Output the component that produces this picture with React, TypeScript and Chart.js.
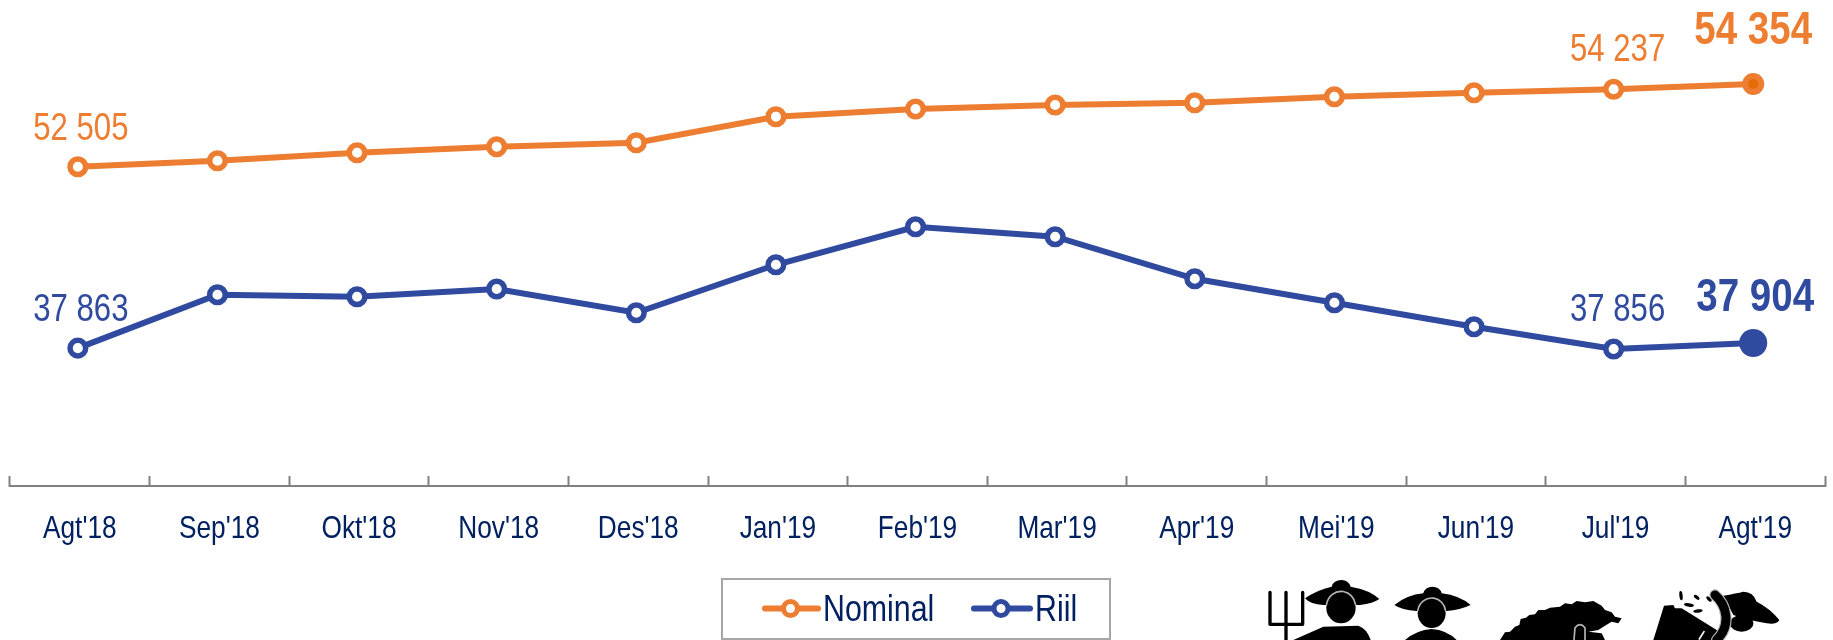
import React, { useEffect, useRef } from "react";
import { Chart, registerables } from "chart.js";

Chart.register(...registerables);

const categories = ["Agt'18", "Sep'18", "Okt'18", "Nov'18", "Des'18", "Jan'19", "Feb'19", "Mar'19", "Apr'19", "Mei'19", "Jun'19", "Jul'19", "Agt'19"];
const nominal = [52505, 52639, 52818, 52952, 53042, 53623, 53795, 53884, 53936, 54070, 54159, 54237, 54354];
const riil = [37863, 38290, 38274, 38336, 38146, 38530, 38834, 38754, 38418, 38226, 38034, 37856, 37904];
const labelledPoints = [0, 11, 12];

const ORANGE = "#ED7D31";
const BLUE = "#2F4A9E";
const NAVY = "#002060";
const SANS = '"Liberation Sans", Arial, sans-serif';
const NARROW_FACTOR = 0.82;
const last = categories.length - 1;

const fmt = (v: number) => String(v).replace(/\B(?=(\d{3})+$)/g, " ");

function narrowText(ctx: any, text: string, x: number, y: number) {
  ctx.save();
  ctx.translate(x, y);
  ctx.scale(NARROW_FACTOR, 1);
  ctx.fillText(text, 0, 0);
  ctx.restore();
}

const tickLabels = {
  id: "tickLabels",
  afterDraw(chart: any) {
    const { ctx } = chart;
    const xs = chart.scales.x;
    ctx.save();
    ctx.fillStyle = NAVY;
    ctx.font = `32px ${SANS}`;
    ctx.textAlign = "center";
    ctx.textBaseline = "alphabetic";
    categories.forEach((c, i) => narrowText(ctx, c, xs.getPixelForTick(i), 538));
    ctx.restore();
  },
};

const valueLabels = {
  id: "valueLabels",
  afterDatasetsDraw(chart: any) {
    const { ctx } = chart;
    ctx.save();
    ctx.textAlign = "center";
    ctx.textBaseline = "alphabetic";
    chart.data.datasets.forEach((ds: any, di: number) => {
      const meta = chart.getDatasetMeta(di);
      labelledPoints.forEach((i) => {
        const pt = meta.data[i];
        const bold = i === last;
        ctx.fillStyle = ds.borderColor;
        ctx.font = `${bold ? "bold " : ""}${bold ? 47 : 38}px ${SANS}`;
        let dx = 3;
        let dy = -27;
        if (i === 11) { dx = 4; dy = -28; }
        if (i === last) { dx = di === 0 ? 0 : 2; dy = di === 0 ? -40 : -32; }
        narrowText(ctx, fmt(ds.data[i].y), pt.x + dx, pt.y + dy);
      });
    });
    ctx.restore();
  },
};

const boxedLegend = {
  id: "boxedLegend",
  afterDraw(chart: any) {
    const { ctx } = chart;
    ctx.save();
    ctx.strokeStyle = "#A6A6A6";
    ctx.lineWidth = 2;
    ctx.strokeRect(722, 579, 388, 60);
    const items = [
      { x0: 765, x1: 818, cx: 790.5, tx: 823 },
      { x0: 974, x1: 1030, cx: 1001, tx: 1035 },
    ];
    chart.data.datasets.forEach((ds: any, i: number) => {
      const it = items[i];
      ctx.strokeStyle = ds.borderColor;
      ctx.lineWidth = 6;
      ctx.lineCap = "round";
      ctx.beginPath();
      ctx.moveTo(it.x0, 608.5);
      ctx.lineTo(it.x1, 608.5);
      ctx.stroke();
      ctx.fillStyle = "#fff";
      ctx.lineWidth = 5;
      ctx.beginPath();
      ctx.arc(it.cx, 608.5, 7, 0, Math.PI * 2);
      ctx.fill();
      ctx.stroke();
      ctx.fillStyle = NAVY;
      ctx.font = `37px ${SANS}`;
      ctx.textAlign = "left";
      ctx.textBaseline = "alphabetic";
      narrowText(ctx, ds.label, it.tx, 621);
    });
    ctx.restore();
  },
};

function poly(ctx: any, pts: number[][]) {
  ctx.beginPath();
  pts.forEach((p, i) => (i ? ctx.lineTo(p[0], p[1]) : ctx.moveTo(p[0], p[1])));
  ctx.closePath();
  ctx.fill();
}

function head(ctx: any, cx: number, cy: number, rx: number, ry: number) {
  ctx.beginPath();
  ctx.ellipse(cx, cy, rx, ry, 0, 0, Math.PI * 2);
  ctx.fill();
  ctx.strokeStyle = "#B5B5B5";
  ctx.lineWidth = 5;
  ctx.beginPath();
  ctx.ellipse(cx, cy - 2, rx, ry, 0, Math.PI * 1.05, Math.PI * 1.95);
  ctx.stroke();
}

const workerIcons = {
  id: "workerIcons",
  afterDraw(chart: any) {
    const { ctx } = chart;
    ctx.save();
    ctx.fillStyle = "#000";
    ctx.strokeStyle = "#000";
    ctx.lineJoin = "round";
    ctx.lineCap = "round";

    ctx.save();
    ctx.translate(1260, 575);
    ctx.scale(1 / 3, 1 / 3);
    ctx.lineWidth = 10;
    ctx.beginPath();
    ctx.moveTo(30, 52); ctx.lineTo(30, 148); ctx.lineTo(128, 148); ctx.lineTo(128, 52);
    ctx.moveTo(78, 52); ctx.lineTo(78, 195);
    ctx.stroke();
    ctx.beginPath();
    ctx.moveTo(135, 70);
    ctx.quadraticCurveTo(170, 45, 215, 35);
    ctx.quadraticCurveTo(220, 15, 245, 15);
    ctx.quadraticCurveTo(265, 15, 272, 35);
    ctx.quadraticCurveTo(330, 45, 358, 72);
    ctx.quadraticCurveTo(340, 85, 300, 90);
    ctx.lineTo(190, 90);
    ctx.quadraticCurveTo(150, 88, 135, 70);
    ctx.fill();
    head(ctx, 243, 98, 44, 47);
    ctx.beginPath();
    ctx.moveTo(100, 195);
    ctx.lineTo(190, 155);
    ctx.lineTo(295, 152);
    ctx.quadraticCurveTo(320, 160, 332, 195);
    ctx.closePath();
    ctx.fill();
    ctx.beginPath();
    ctx.moveTo(403, 90);
    ctx.quadraticCurveTo(440, 60, 490, 55);
    ctx.quadraticCurveTo(495, 35, 517, 35);
    ctx.quadraticCurveTo(540, 35, 545, 55);
    ctx.quadraticCurveTo(600, 62, 632, 90);
    ctx.quadraticCurveTo(600, 105, 560, 108);
    ctx.lineTo(470, 108);
    ctx.quadraticCurveTo(425, 105, 403, 90);
    ctx.fill();
    head(ctx, 515, 115, 42, 44);
    ctx.beginPath();
    ctx.moveTo(435, 195);
    ctx.quadraticCurveTo(470, 165, 515, 162);
    ctx.quadraticCurveTo(560, 165, 590, 195);
    ctx.closePath();
    ctx.fill();
    ctx.restore();

    ctx.save();
    ctx.translate(1490, 575);
    ctx.scale(1 / 3, 1 / 3);
    poly(ctx, [[30, 195], [45, 172], [60, 170], [75, 155], [88, 150], [92, 132], [108, 128], [118, 120], [135, 118], [145, 105], [165, 105], [180, 98], [210, 95], [225, 85], [245, 88], [260, 78], [285, 82], [310, 78], [335, 92], [345, 105], [365, 112], [375, 125], [395, 130], [385, 145], [365, 140], [345, 152], [325, 165], [295, 170], [335, 175], [345, 195]]);
    ctx.strokeStyle = "#B5B5B5";
    ctx.lineWidth = 5;
    ctx.beginPath();
    ctx.moveTo(252, 195); ctx.lineTo(255, 158);
    ctx.quadraticCurveTo(270, 140, 285, 158);
    ctx.lineTo(285, 195);
    ctx.stroke();
    poly(ctx, [[490, 195], [522, 92], [550, 90], [555, 100], [575, 100], [680, 165], [690, 195]]);
    [[573, 62, 5, 14, -0.1], [620, 67, 10, 5, 0.7], [597, 90, 15, 5, 0.15], [624, 108, 14, 5, -0.15], [657, 72, 10, 5, 0.8]].forEach((g) => {
      ctx.beginPath();
      ctx.ellipse(g[0], g[1], g[2], g[3], g[4], 0, Math.PI * 2);
      ctx.fill();
    });
    ctx.beginPath();
    ctx.moveTo(700, 62);
    ctx.quadraticCurveTo(740, 55, 760, 50);
    ctx.quadraticCurveTo(790, 50, 800, 80);
    ctx.quadraticCurveTo(840, 100, 868, 135);
    ctx.quadraticCurveTo(860, 150, 830, 145);
    ctx.quadraticCurveTo(770, 135, 730, 120);
    ctx.closePath();
    ctx.fill();
    ctx.beginPath();
    ctx.ellipse(755, 145, 35, 25, 0, 0, Math.PI * 2);
    ctx.fill();
    ctx.strokeStyle = "#B5B5B5";
    ctx.lineWidth = 34;
    const arm = () => {
      ctx.beginPath();
      ctx.moveTo(675, 60);
      ctx.bezierCurveTo(710, 90, 725, 150, 680, 195);
      ctx.stroke();
    };
    arm();
    ctx.strokeStyle = "#000";
    ctx.lineWidth = 27;
    arm();
    ctx.strokeStyle = "#fff";
    ctx.lineWidth = 5;
    ctx.beginPath();
    ctx.moveTo(642, 170); ctx.lineTo(628, 192);
    ctx.stroke();
    ctx.restore();

    ctx.restore();
  },
};

export default function App() {
  const ref = useRef<HTMLCanvasElement>(null);
  useEffect(() => {
    document.body.style.margin = "0";
    const solid = (n: number, a: any, b: any) => Array.from({ length: n }, (_, i) => (i === n - 1 ? b : a));
    const n = categories.length;
    const toPoints = (values: number[]) => values.map((y, x) => ({ x, y }));
    const chart = new Chart(ref.current!, {
      type: "line",
      data: {
        labels: categories,
        datasets: [
          {
            label: "Nominal",
            data: toPoints(nominal),
            xAxisID: "xPoints",
            yAxisID: "yNominal",
            borderColor: ORANGE,
            borderWidth: 6,
            tension: 0,
            pointBackgroundColor: solid(n, "#fff", "#E36C09"),
            pointBorderColor: ORANGE,
            pointBorderWidth: solid(n, 5.5, 6),
            pointRadius: solid(n, 7.8, 8),
          },
          {
            label: "Riil",
            data: toPoints(riil),
            xAxisID: "xPoints",
            yAxisID: "yRiil",
            borderColor: BLUE,
            borderWidth: 6,
            tension: 0,
            pointBackgroundColor: solid(n, "#fff", BLUE),
            pointBorderColor: BLUE,
            pointBorderWidth: solid(n, 5.5, 0),
            pointRadius: solid(n, 7.8, 14),
          },
        ],
      },
      options: {
        animation: false,
        responsive: false,
        layout: { autoPadding: false, padding: { left: 10, right: 8, top: 0, bottom: 0 } },
        plugins: { legend: { display: false }, tooltip: { enabled: false } },
        scales: {
          x: {
            type: "category",
            offset: true,
            afterFit: (s: any) => { s.height = 154; },
            border: { display: true, color: "#808080", width: 2 },
            grid: { offset: true, drawOnChartArea: false, drawTicks: true, tickLength: -10, tickWidth: 2, tickColor: "#808080" },
            ticks: { display: false },
          },
          xPoints: { type: "linear", display: false, min: -0.486, max: 12.514 },
          yNominal: { display: false, min: 45366, max: 56232 },
          yRiil: { display: false, min: 36760, max: 40648 },
        },
      } as any,
      plugins: [valueLabels, tickLabels, boxedLegend, workerIcons],
    });
    return () => chart.destroy();
  }, []);
  return <canvas ref={ref} width={1833} height={640} style={{ display: "block", width: 1833, height: 640 }} />;
}
